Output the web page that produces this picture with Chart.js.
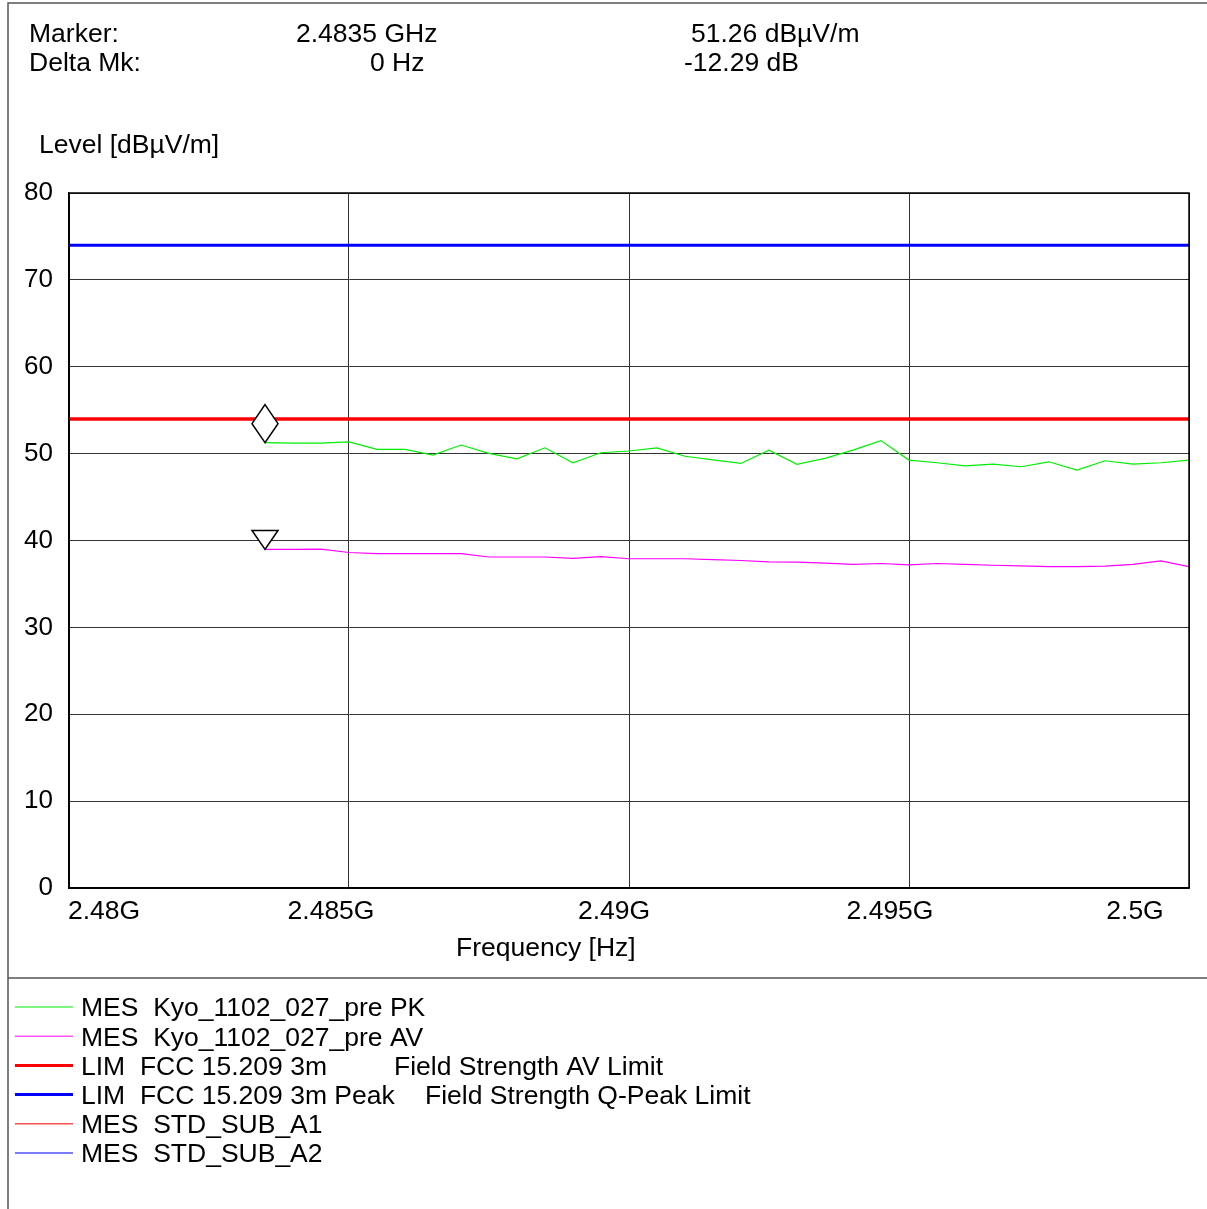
<!DOCTYPE html>
<html>
<head>
<meta charset="utf-8">
<script src="https://cdn.jsdelivr.net/npm/chart.js@4.4.1/dist/chart.umd.min.js"></script>
<style>
  body { margin: 0; background: #fff; }
  canvas { display: block; }
</style>
</head>
<body>
<canvas id="myChart" width="1207" height="1209"></canvas>
<script>
// frequencies in GHz, one sweep point every 0.5 MHz
var freqs = [2.4835, 2.484, 2.4845, 2.485, 2.4855, 2.486, 2.4865, 2.487, 2.4875, 2.488,
    2.4885, 2.489, 2.4895, 2.49, 2.4905, 2.491, 2.4915, 2.492, 2.4925, 2.493,
    2.4935, 2.494, 2.4945, 2.495, 2.4955, 2.496, 2.4965, 2.497, 2.4975, 2.498,
    2.4985, 2.499, 2.4995, 2.5];
var peakLevels = [51.26, 51.2, 51.2, 51.36, 50.49, 50.49, 49.84, 50.99, 50.03, 49.4,
    50.67, 48.95, 50.1, 50.3, 50.67, 49.7, 49.28, 48.87, 50.4, 48.76,
    49.45, 50.4, 51.5, 49.26, 48.95, 48.6, 48.8, 48.49, 49.06, 48.1,
    49.18, 48.8, 48.95, 49.26];
var avgLevels = [38.97, 38.97, 39.0, 38.62, 38.5, 38.5, 38.5, 38.5, 38.1, 38.1,
    38.1, 37.95, 38.15, 37.9, 37.9, 37.9, 37.8, 37.7, 37.55, 37.5,
    37.4, 37.25, 37.35, 37.2, 37.35, 37.25, 37.15, 37.07, 37.0, 37.0,
    37.05, 37.25, 37.66, 37.0];
var limitFreqs = [2.48, 2.5];
var avLimit = [54, 54];
var peakLimit = [74, 74];
var xTicks = [2.48, 2.485, 2.49, 2.495, 2.5];
var xTickLabels = ["2.48G", "2.485G", "2.49G", "2.495G", "2.5G"];
var yTicks = [0, 10, 20, 30, 40, 50, 60, 70, 80];

var legendRows = [
    ["MES  Kyo_1102_027_pre PK", "", "#00ee00", 1],
    ["MES  Kyo_1102_027_pre AV", "", "#ff00ff", 1],
    ["LIM  FCC 15.209 3m", "Field Strength AV Limit", "#ff0000", 3],
    ["LIM  FCC 15.209 3m Peak", "Field Strength Q-Peak Limit", "#0000ff", 3],
    ["MES  STD_SUB_A1", "", "#ff5050", 1.5],
    ["MES  STD_SUB_A2", "", "#5050ff", 1.5]
];

function pts(xs, ys) {
    return xs.map(function (x, i) { return { x: x, y: ys[i] }; });
}

var FONT = "26.5px 'Liberation Sans', Arial, sans-serif";

var decor = {
    id: "decor",
    beforeDraw: function (chart) {
        var c = chart.ctx;
        c.save();
        c.fillStyle = "#fff";
        c.fillRect(0, 0, chart.width, chart.height);
        c.strokeStyle = "#555";
        c.lineWidth = 1.5;
        c.beginPath();
        c.moveTo(8, 1209); c.lineTo(8, 3); c.lineTo(1207, 3);
        c.moveTo(8, 978); c.lineTo(1207, 978);
        c.stroke();
        c.restore();
    },
    afterDraw: function (chart) {
        var c = chart.ctx;
        var a = chart.chartArea;
        var xs = chart.scales.x;
        c.save();
        // plot frame
        c.strokeStyle = "#000";
        c.lineWidth = 1.5;
        c.strokeRect(a.left, a.top, a.right - a.left, a.bottom - a.top);

        // markers
        var pk = chart.getDatasetMeta(0).data[0];
        var av = chart.getDatasetMeta(1).data[0];
        c.lineWidth = 1.5;
        c.strokeStyle = "#000";
        c.fillStyle = "#fff";
        c.beginPath();
        c.moveTo(pk.x, pk.y);
        c.lineTo(pk.x - 13, pk.y - 19);
        c.lineTo(pk.x, pk.y - 38);
        c.lineTo(pk.x + 13, pk.y - 19);
        c.closePath();
        c.fill(); c.stroke();
        c.beginPath();
        c.moveTo(av.x, av.y);
        c.lineTo(av.x - 13, av.y - 19);
        c.lineTo(av.x + 13, av.y - 19);
        c.closePath();
        c.fill(); c.stroke();

        c.fillStyle = "#000";
        c.font = FONT;
        c.textBaseline = "alphabetic";
        c.textAlign = "left";
        // header
        c.fillText("Marker:", 29, 42);
        c.fillText("2.4835 GHz", 296, 42);
        c.fillText("51.26 dBµV/m", 691, 42);
        c.fillText("Delta Mk:", 29, 71);
        c.fillText("0 Hz", 370, 71);
        c.fillText("-12.29 dB", 684, 71);
        c.fillText("Level [dBµV/m]", 39, 153);
        c.fillText("Frequency [Hz]", 456, 956);

        // x tick labels
        var shifts = [35, -18, -15, -19, -54];
        c.textAlign = "center";
        xTicks.forEach(function (v, i) {
            c.fillText(xTickLabels[i], xs.getPixelForValue(v) + shifts[i], 919);
        });

        // legend
        c.textAlign = "left";
        c.textBaseline = "middle";
        legendRows.forEach(function (r, i) {
            var y = 1007 + i * 29.2;
            c.strokeStyle = r[2];
            c.lineWidth = r[3];
            c.beginPath();
            c.moveTo(15, y); c.lineTo(73, y);
            c.stroke();
            c.fillStyle = "#000";
            c.fillText(r[0], 81, y + 2);
            if (r[1]) {
                c.fillText(r[1], i === 2 ? 394 : 425, y + 2);
            }
        });
        c.restore();
    }
};

new Chart("myChart", {
    type: "line",
    data: {
        datasets: [
            { label: "PK", data: pts(freqs, peakLevels), borderColor: "#00ee00", borderWidth: 1.2 },
            { label: "AV", data: pts(freqs, avgLevels), borderColor: "#ff00ff", borderWidth: 1.2 },
            { label: "AV Limit", data: pts(limitFreqs, avLimit), borderColor: "#ff0000", borderWidth: 3.5 },
            { label: "Peak Limit", data: pts(limitFreqs, peakLimit), borderColor: "#0000ff", borderWidth: 3 }
        ]
    },
    options: {
        responsive: false,
        animation: false,
        events: [],
        layout: { padding: { left: 0, top: 193, right: 18, bottom: 0 } },
        elements: {
            point: { radius: 0 },
            line: { tension: 0, fill: false }
        },
        scales: {
            x: {
                type: "linear",
                min: 2.48,
                max: 2.5,
                afterBuildTicks: function (s) {
                    s.ticks = xTicks.map(function (v) { return { value: v }; });
                },
                afterFit: function (s) { s.height = 1209 - 888; },
                ticks: { display: false },
                grid: { color: "#333", lineWidth: 1, drawTicks: false },
                border: { color: "#000", width: 1.5 }
            },
            y: {
                min: 0,
                max: 80,
                afterBuildTicks: function (s) {
                    s.ticks = yTicks.map(function (v) { return { value: v }; });
                },
                afterFit: function (s) { s.width = 69; },
                ticks: {
                    color: "#000",
                    font: { family: "'Liberation Sans', Arial, sans-serif", size: 26 },
                    padding: 16
                },
                grid: { color: "#333", lineWidth: 1, drawTicks: false },
                border: { color: "#000", width: 1.5 }
            }
        },
        plugins: {
            legend: { display: false },
            title: { display: false },
            tooltip: { enabled: false }
        }
    },
    plugins: [decor]
});
</script>
</body>
</html>
